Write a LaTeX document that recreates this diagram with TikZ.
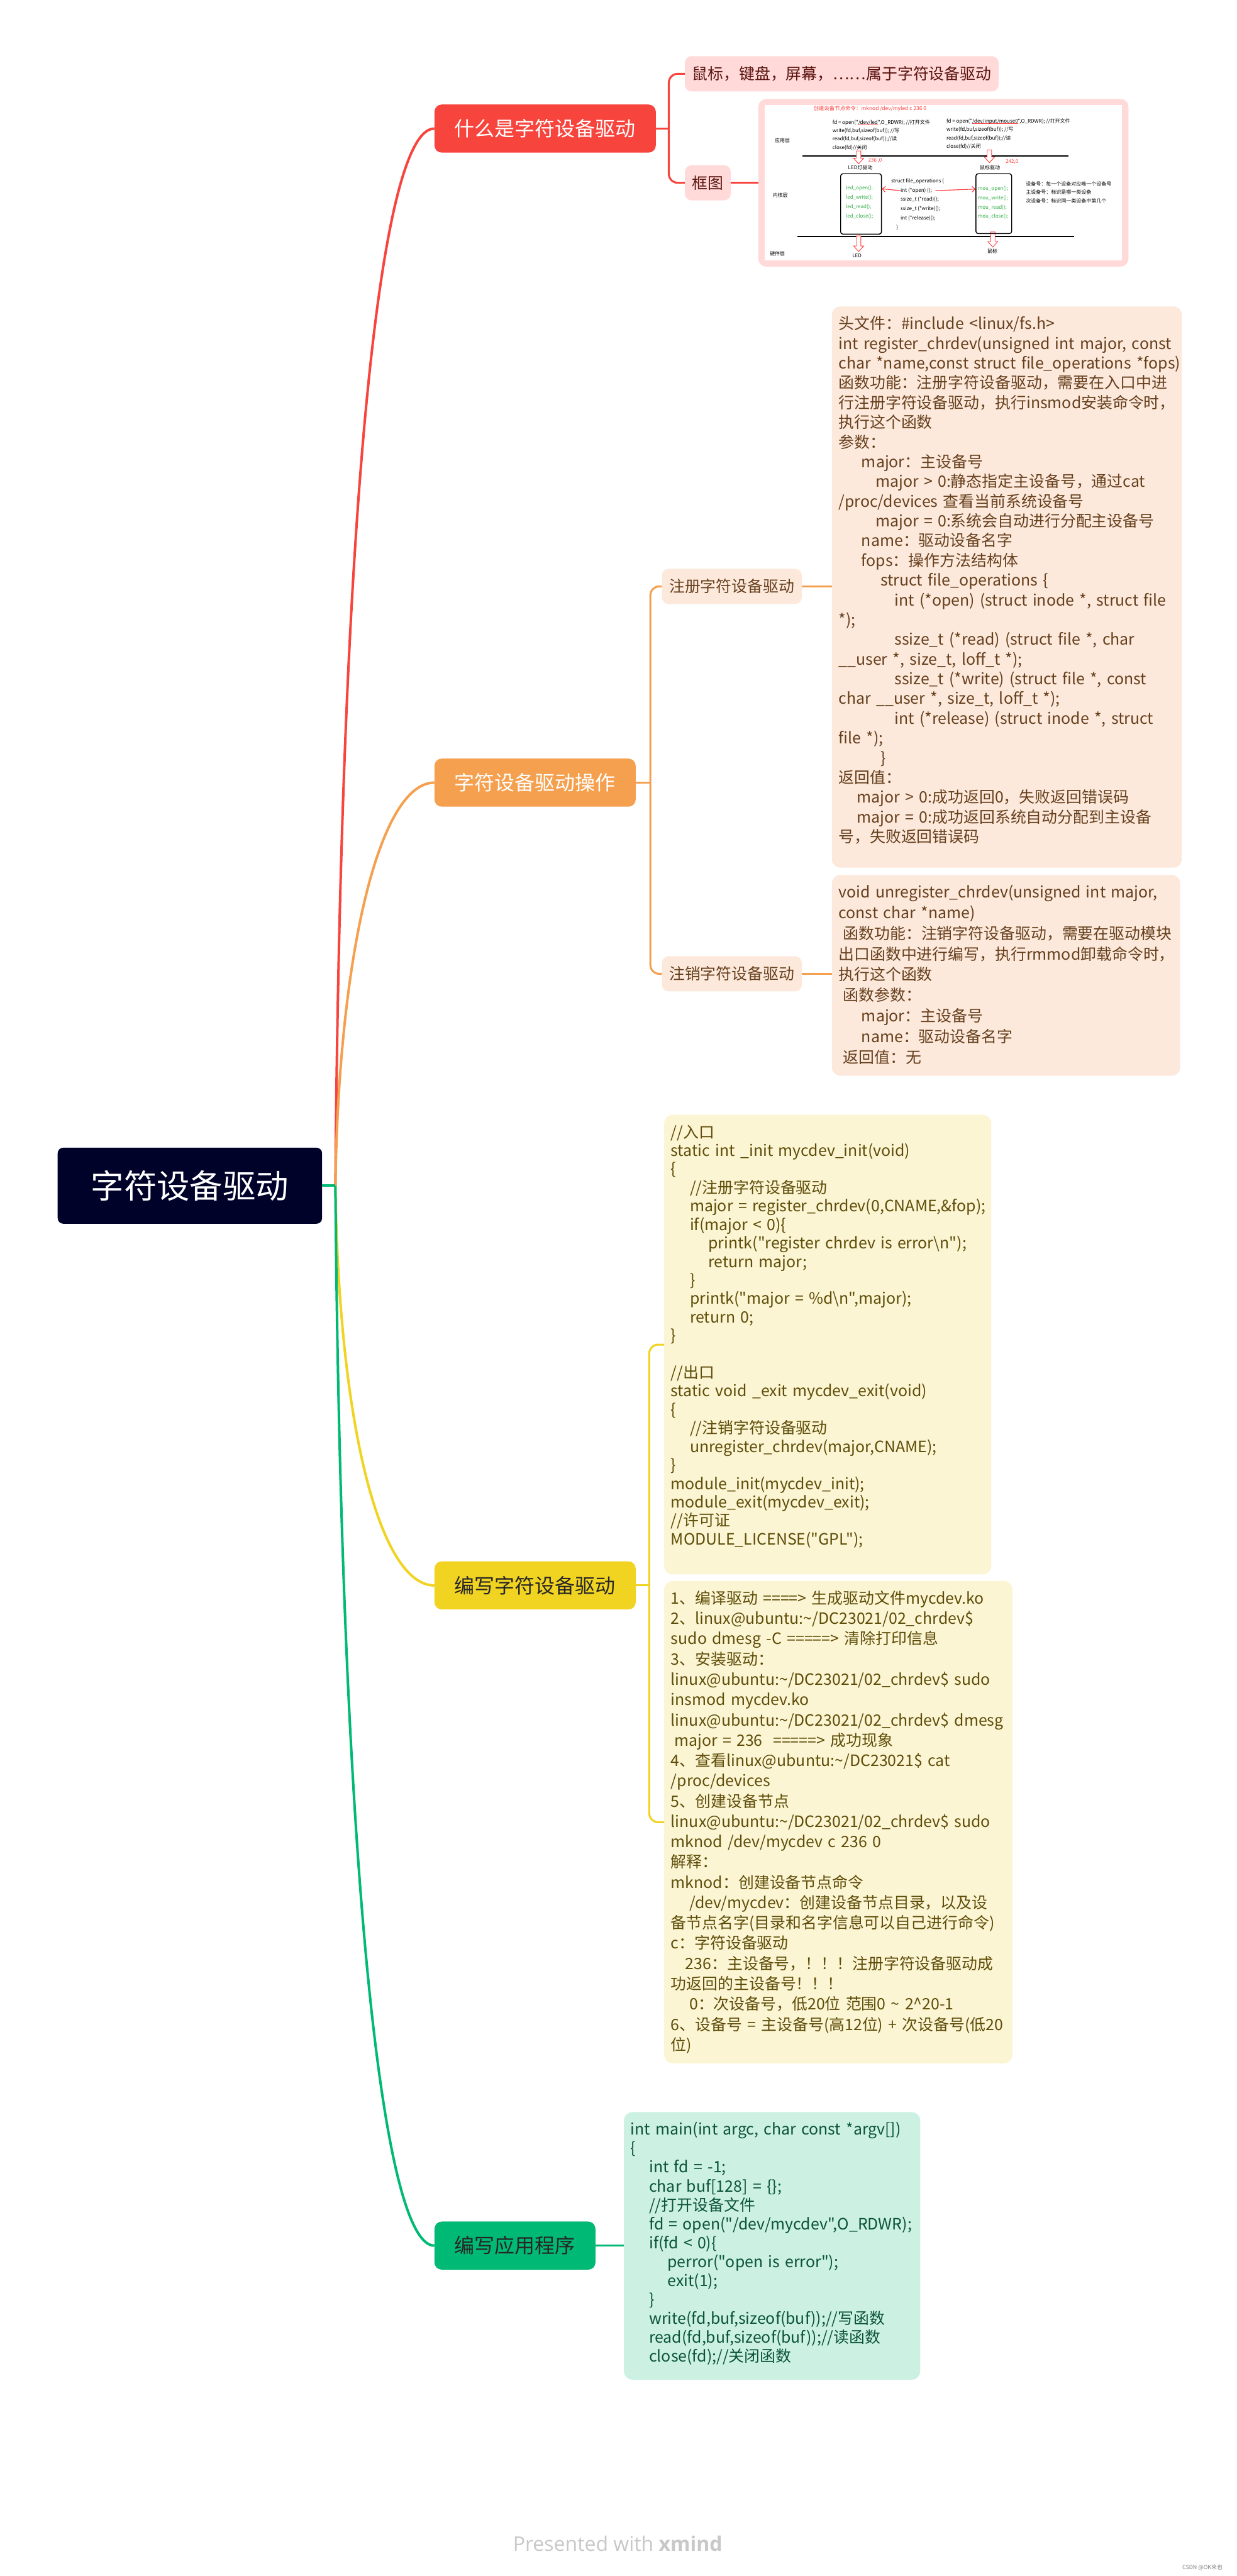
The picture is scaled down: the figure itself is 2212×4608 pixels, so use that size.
\documentclass[tikz,border=0pt]{standalone}
\usepackage{fontspec}
\setmainfont{Noto Sans CJK SC}
\newfontfamily\mindfont{Noto Sans CJK SC}
\newfontfamily\brandfont{Open Sans}
\usetikzlibrary{positioning,arrows.meta}
\definecolor{RootNavy}{HTML}{00022A}
\definecolor{Crimson}{HTML}{F7453E}
\definecolor{Tangerine}{HTML}{F5A04F}
\definecolor{Mustard}{HTML}{F1D322}
\definecolor{Jade}{HTML}{00B974}
\definecolor{Crimson10}{HTML}{FFDAD8}
\definecolor{Tangerine10}{HTML}{FCE9DB}
\definecolor{Mustard10}{HTML}{FCF5D3}
\definecolor{Jade10}{HTML}{CCF1E3}
\definecolor{CrimsonInk}{HTML}{5C1511}
\definecolor{TangerineInk}{HTML}{663F1D}
\definecolor{MustardInk}{HTML}{5E4D09}
\definecolor{JadeInk}{HTML}{0B5436}
\definecolor{FigRed}{HTML}{FF3B3B}
\definecolor{FigGreen}{HTML}{35B04A}
\definecolor{Gray40}{HTML}{C8C8C8}

\newcommand{\hollowdown}[3]{%
  \draw[FigRed, line width=1pt, fill=white] (#1-4,#2) -- (#1+4,#2) -- (#1+4,#3-10)
    -- (#1+9,#3-10) -- (#1,#3) -- (#1-9,#3-10) -- (#1-4,#3-10) -- cycle;}
\newcommand{\redul}[1]{\setbox0=\hbox{#1}\rlap{\textcolor{FigRed}{\rule[-1.6pt]{\wd0}{0.7pt}}}\box0}

\begin{document}
\begin{tikzpicture}[x=1pt, y=-1pt,
    root/.style={rectangle, rounded corners=10pt, fill=RootNavy, text=white, font=\mindfont\fontsize{59}{66}\selectfont, minimum height=136pt, inner xsep=59.5pt, inner ysep=0pt, anchor=west},
    topic/.style={rectangle, rounded corners=13pt, font=\mindfont\fontsize{36}{40}\selectfont, minimum height=86pt, inner xsep=36pt, inner ysep=0pt, anchor=west},
    subtopic/.style={rectangle, rounded corners=12pt, font=\mindfont\fontsize{28}{32}\selectfont, minimum height=63pt, inner xsep=13pt, inner ysep=0pt, anchor=west},
    note/.style 2 args={rectangle, rounded corners=15pt, font=\mindfont\fontsize{28}{#1}\selectfont, align=left, anchor=north west, inner xsep=12pt, inner ysep=16pt, execute at begin node={\rule{0pt}{25pt}}, execute at end node={\rule[-#2]{0pt}{0pt}}},
    branch/.style={line width=4.5pt},
    twig/.style={line width=3.5pt, rounded corners=16pt},
    figtext/.style={font=\mindfont\fontsize{9}{15}\selectfont, inner sep=0pt, anchor=west, align=left},
    figbox/.style={draw, rounded corners=4pt, line width=1.6pt, anchor=north west, inner sep=0pt},
    figarrow/.style={FigRed, line width=1.3pt, -{Straight Barb[length=5pt, width=10pt]}},
    layer/.style={line width=1.6pt}
]
\fill[white] (0,0) rectangle (2212,4608);
\useasboundingbox (0,0) rectangle (2212,4608);

\node[root] (core) at (103,2121) {字符设备驱动};
\coordinate (hub) at (600,2121);

\node[topic, fill=Crimson, text=white] (whatis) at (777,230) {什么是字符设备驱动};
\node[topic, fill=Tangerine, text=white] (ops) at (777,1400) {字符设备驱动操作};
\node[topic, fill=Mustard, text=black!85] (writedrv) at (777,2836) {编写字符设备驱动};
\node[topic, fill=Jade, text=black!85] (writeapp) at (777,4017) {编写应用程序};

\draw[branch, Crimson] (hub) .. controls (610,900) and (680,230) .. (whatis.west);
\draw[branch, Tangerine] (hub) .. controls (606,1700) and (680,1400) .. (ops.west);
\draw[branch, Mustard] (hub) .. controls (606,2550) and (680,2836) .. (writedrv.west);
\draw[branch, Jade] (hub) .. controls (610,3300) and (680,4017) .. (writeapp.west);
\draw[branch, Jade] (core.east) -- (hub);

\node[subtopic, fill=Crimson10, text=CrimsonInk] (devices) at (1225,132) {鼠标，键盘，屏幕，……属于字符设备驱动};
\node[subtopic, fill=Crimson10, text=CrimsonInk] (sketch) at (1225,327) {框图};
\draw[twig, Crimson] (whatis.east) -- ++(23,0);
\draw[twig, Crimson] (devices.west) -| ([xshift=23pt]whatis.east) |- (sketch.west);
\node[rectangle, rounded corners=14pt, fill=Crimson10, minimum width=662pt, minimum height=300pt, right=49pt of sketch] (sketchimg) {};
\draw[twig, Crimson] (sketch.east) -- (sketchimg.west);
\fill[white] (1368,188) rectangle (2007,466);

\node[figtext, text=FigRed, font=\mindfont\fontsize{9.5}{11}\selectfont] (mknodcmd) at (1455,194) {创建设备节点命令：mknod /dev/myled c 236 0};
\node[figtext] (lyapp) at (1386,251) {应用层};
\node[figtext] (lykern) at (1382,349) {内核层};
\node[figtext] (lyhw) at (1377,454) {硬件层};
\node[figtext] (appled) at (1489,241.5) {fd = open("\redul{/dev/led}",O\_RDWR); //打开文件\\write(fd,buf,sizeof(buf)); //写\\read(fd,buf,sizeof(buf));//读\\close(fd)//关闭};
\node[figtext] (appmouse) at (1693,239.5) {fd = open("\redul{/dev/input/mouse0}",O\_RDWR); //打开文件\\write(fd,buf,sizeof(buf)); //写\\read(fd,buf,sizeof(buf));//读\\close(fd)//关闭};
\draw[layer] (1436,279) -- (1911,279);
\draw[layer] (1426,423) -- (1922,423);
\hollowdown{1536}{270}{293}
\hollowdown{1770}{268}{291}
\hollowdown{1536}{422}{450}
\hollowdown{1776}{415}{442}
\node[figtext, text=FigRed] (majled) at (1553,287) {236 ,0};
\node[figtext, text=FigRed] (majmouse) at (1799,289) {242,0};
\node[figtext, anchor=center] (drvled) at (1539,300) {LED灯驱动};
\node[figtext, anchor=center] (drvmouse) at (1771,300) {鼠标驱动};
\node[figbox, minimum width=73pt, minimum height=108pt] (ledbox) at (1503,310) {};
\node[figbox, minimum width=64pt, minimum height=107pt] (moubox) at (1745,310) {};
\node[figtext, text=FigGreen, font=\mindfont\fontsize{9}{16.7}\selectfont] (ledops) at (1513,362) {led\_open();\\led\_write();\\led\_read();\\led\_close();};
\node[figtext, text=FigGreen, font=\mindfont\fontsize{9}{16.7}\selectfont] (mouops) at (1749,362.5) {mou\_open();\\mou\_write();\\mou\_read();\\mou\_close();};
\node[figtext] (fstruct) at (1594,324) {struct file\_operations \{};
\node[figtext] (fopen) at (1611,341) {int (*open) ();};
\node[figtext, font=\mindfont\fontsize{9}{16.5}\selectfont] (frest) at (1611,373.5) {ssize\_t (*read)();\\ssize\_t (*write)();\\int (*release)();};
\node[figtext] (fend) at (1603,407) {\}};
\draw[figarrow] (fopen.west) -- ([yshift=27pt]ledbox.east);
\draw[figarrow] ([xshift=6pt]fopen.east) -- ([yshift=26pt]moubox.west);
\node[figtext] (devnums) at (1835,344) {设备号：每一个设备对应唯一个设备号\\主设备号：标识是哪一类设备\\次设备号：标识同一类设备中第几个};
\node[figtext, anchor=center] (hwled) at (1533,457) {LED};
\node[figtext, anchor=center] (hwmouse) at (1775,449) {鼠标};

\node[subtopic, fill=Tangerine10, text=TangerineInk] (reg) at (1184,1049) {注册字符设备驱动};
\node[subtopic, fill=Tangerine10, text=TangerineInk] (unreg) at (1184,1742) {注销字符设备驱动};
\node[note={35.3}{29pt}, fill=Tangerine10, text=TangerineInk, text width=602pt] (regnote) at (1488,548) {头文件：\#include <linux/fs.h>\\
\mbox{int register\_chrdev(unsigned int major, const}\\
\mbox{char *name,const struct file\_operations *fops)}\\
函数功能：注册字符设备驱动，需要在入口中进\\
行注册字符设备驱动，执行insmod安装命令时，\\
执行这个函数\\
参数：\\
\hspace*{41pt}major：主设备号\\
\mbox{\hspace*{66pt}major > 0:静态指定主设备号，通过cat}\\
/proc/devices 查看当前系统设备号\\
\mbox{\hspace*{66pt}major = 0:系统会自动进行分配主设备号}\\
\hspace*{41pt}name：驱动设备名字\\
\hspace*{41pt}fops：操作方法结构体\\
\hspace*{75pt}struct file\_operations \{\\
\mbox{\hspace*{100pt}int (*open) (struct inode *, struct file}\\{}*);\\
\mbox{\hspace*{100pt}ssize\_t (*read) (struct file *, char}\\
\_\_user *, size\_t, loff\_t *);\\
\mbox{\hspace*{100pt}ssize\_t (*write) (struct file *, const}\\
char \_\_user *, size\_t, loff\_t *);\\
\mbox{\hspace*{100pt}int (*release) (struct inode *, struct}\\
file *);\\
\hspace*{75pt}\}\\
返回值：\\
\hspace*{33pt}major > 0:成功返回0，失败返回错误码\\
\mbox{\hspace*{33pt}major = 0:成功返回系统自动分配到主设备}\\
号，失败返回错误码};
\node[note={36.9}{7pt}, fill=Tangerine10, text=TangerineInk, text width=599pt] (unregnote) at (1488,1565) {\mbox{void unregister\_chrdev(unsigned int major,}\\
const char *name)\\
\hspace*{8pt}函数功能：注销字符设备驱动，需要在驱动模块\\
出口函数中进行编写，执行rmmod卸载命令时，\\
执行这个函数\\
\hspace*{8pt}函数参数：\\
\hspace*{41pt}major：主设备号\\
\hspace*{41pt}name：驱动设备名字\\
\hspace*{8pt}返回值：无};
\draw[twig, Tangerine] (ops.east) -- ++(26,0);
\draw[twig, Tangerine] (reg.west) -| ([xshift=26pt]ops.east) |- (unreg.west);
\draw[twig, Tangerine] (reg.east) -- (reg.east -| regnote.west);
\draw[twig, Tangerine] (unreg.east) -- (unreg.east -| unregnote.west);

\node[note={33.1}{37pt}, fill=Mustard10, text=MustardInk, text width=561pt] (initnote) at (1188,1994) {//入口\\
static int \_init mycdev\_init(void)\\
\{\\
\hspace*{34pt}//注册字符设备驱动\\
\mbox{\hspace*{34pt}major = register\_chrdev(0,CNAME,\&fop);}\\
\hspace*{34pt}if(major < 0)\{\\
\mbox{\hspace*{67pt}printk("register chrdev is error\textbackslash n");}\\
\hspace*{67pt}return major;\\
\hspace*{34pt}\}\\
\hspace*{34pt}printk("major = \%d\textbackslash n",major);\\
\hspace*{34pt}return 0;\\
\}\\[33.1pt]
//出口\\
static void \_exit mycdev\_exit(void)\\
\{\\
\hspace*{34pt}//注销字符设备驱动\\
\hspace*{34pt}unregister\_chrdev(major,CNAME);\\
\}\\
module\_init(mycdev\_init);\\
module\_exit(mycdev\_exit);\\
//许可证\\
MODULE\_LICENSE("GPL");};
\node[note={36.3}{7pt}, fill=Mustard10, text=MustardInk, text width=599pt] (cmdnote) at (1188,2828) {\mbox{1、编译驱动 ====> 生成驱动文件mycdev.ko}\\
2、linux@ubuntu:\textasciitilde/DC23021/02\_chrdev\$\\
sudo dmesg -C =====> 清除打印信息\\
3、安装驱动：\\
\mbox{linux@ubuntu:\textasciitilde/DC23021/02\_chrdev\$ sudo}\\
insmod mycdev.ko\\
\mbox{linux@ubuntu:\textasciitilde/DC23021/02\_chrdev\$ dmesg}\\
\hspace*{6pt}major = 236 \ =====> 成功现象\\
\mbox{4、查看linux@ubuntu:\textasciitilde/DC23021\$ cat}\\
/proc/devices\\
5、创建设备节点\\
\mbox{linux@ubuntu:\textasciitilde/DC23021/02\_chrdev\$ sudo}\\
mknod /dev/mycdev c 236 0\\
解释：\\
mknod：创建设备节点命令\\
\hspace*{33pt}/dev/mycdev：创建设备节点目录，以及设\\
备节点名字(目录和名字信息可以自己进行命令)\\
c：字符设备驱动\\
\hspace*{26pt}236：主设备号，！！！注册字符设备驱动成\\
功返回的主设备号！！！\\
\mbox{\hspace*{33pt}0：次设备号，低20位 范围0 \textasciitilde{} 2\textasciicircum{}20-1}\\
\mbox{6、设备号 = 主设备号(高12位) + 次设备号(低20}\\
位)};
\draw[twig, Mustard] (writedrv.east) -- ++(24,0);
\draw[twig, Mustard] (initnote.west) -| ([xshift=24pt]writedrv.east) |- (cmdnote.west);

\node[note={33.8}{16pt}, fill=Jade10, text=JadeInk, text width=506pt] (mainnote) at (1116,3778) {\mbox{int main(int argc, char const *argv[])}\\
\{\\
\hspace*{33pt}int fd = -1;\\
\hspace*{33pt}char buf[128] = \{\};\\
\hspace*{33pt}//打开设备文件\\
\mbox{\hspace*{33pt}fd = open("/dev/mycdev",O\_RDWR);}\\
\hspace*{33pt}if(fd < 0)\{\\
\hspace*{66pt}perror("open is error");\\
\hspace*{66pt}exit(1);\\
\hspace*{33pt}\}\\
\hspace*{33pt}write(fd,buf,sizeof(buf));//写函数\\
\hspace*{33pt}read(fd,buf,sizeof(buf));//读函数\\
\hspace*{33pt}close(fd);//关闭函数};
\draw[twig, Jade] (writeapp.east) -- (writeapp.east -| mainnote.west);

\node[font=\brandfont\fontsize{36}{40}\selectfont, text=Gray40] (credit) at (1105,4550) {Presented with \textbf{xmind}};
\node[font=\mindfont\fontsize{10}{12}\selectfont, text=gray] (mark) at (2151,4593) {CSDN @OK来也};
\end{tikzpicture}
\end{document}
